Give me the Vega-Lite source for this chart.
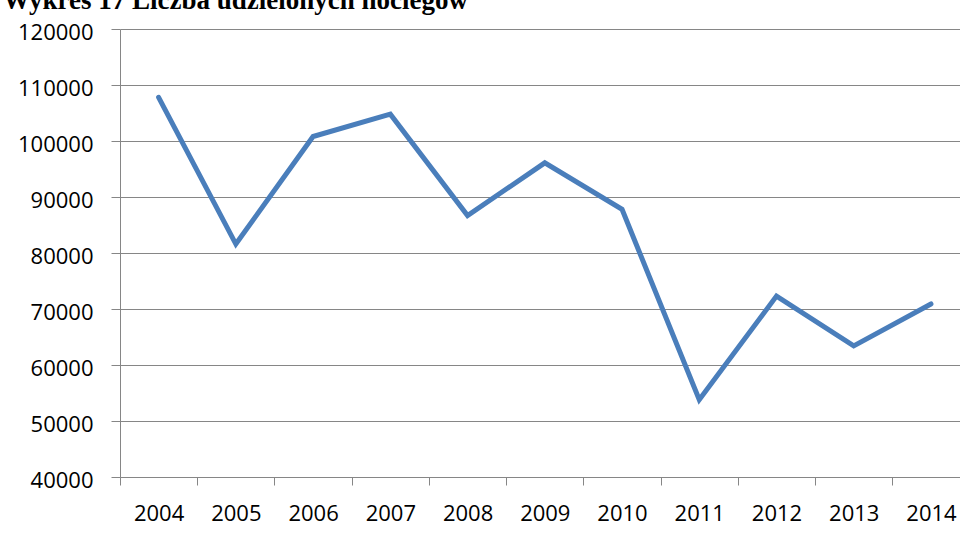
{
  "$schema": "https://vega.github.io/schema/vega-lite/v6.json",
  "autosize": {"type": "none"},
  "padding": {"left": 120, "top": 29, "right": 0, "bottom": 68},
  "width": 840,
  "height": 448,
  "background": "white",
  "title": {
    "text": "Wykres 17 Liczba udzielonych noclegów",
    "font": "Liberation Serif",
    "fontSize": 27,
    "fontWeight": "bold",
    "color": "#000000",
    "anchor": "start",
    "frame": "group",
    "baseline": "alphabetic",
    "dx": -117,
    "offset": -15
  },
  "data": {
    "values": [
      {"rok": 2004, "noclegi": 107800},
      {"rok": 2005, "noclegi": 81600},
      {"rok": 2006, "noclegi": 100800},
      {"rok": 2007, "noclegi": 104800},
      {"rok": 2008, "noclegi": 86700},
      {"rok": 2009, "noclegi": 96100},
      {"rok": 2010, "noclegi": 87800},
      {"rok": 2011, "noclegi": 53800},
      {"rok": 2012, "noclegi": 72300},
      {"rok": 2013, "noclegi": 63400},
      {"rok": 2014, "noclegi": 70900}
    ]
  },
  "mark": {"type": "line", "color": "#4A7EBB", "strokeWidth": 5, "strokeCap": "round"},
  "encoding": {
    "x": {
      "field": "rok",
      "type": "quantitative",
      "scale": {"domain": [2003.5, 2014.376], "nice": false, "zero": false},
      "axis": {
        "title": null,
        "values": [2004, 2005, 2006, 2007, 2008, 2009, 2010, 2011, 2012, 2013, 2014],
        "format": "d",
        "grid": false,
        "tickOffset": -38.62,
        "labelOffset": 38.62,
        "tickSize": 8,
        "labelPadding": 18,
        "labelFlush": false,
        "labelOverlap": false,
        "labelBound": false
      }
    },
    "y": {
      "field": "noclegi",
      "type": "quantitative",
      "scale": {"domain": [40000, 120000], "nice": false, "zero": false},
      "axis": {
        "title": null,
        "values": [40000, 50000, 60000, 70000, 80000, 90000, 100000, 110000, 120000],
        "format": "d",
        "grid": true,
        "tickSize": 9,
        "labelPadding": 18,
        "labelOffset": 3,
        "labelFlush": false,
        "labelOverlap": false,
        "labelBound": false
      }
    }
  },
  "config": {
    "view": {"stroke": null},
    "axis": {
      "labelFont": "Open Sans",
      "labelFontSize": 22,
      "labelColor": "#000000",
      "domainColor": "#868686",
      "tickColor": "#868686",
      "gridColor": "#868686",
      "domainWidth": 1,
      "tickWidth": 1,
      "gridWidth": 1,
      "gridOpacity": 1
    }
  }
}
